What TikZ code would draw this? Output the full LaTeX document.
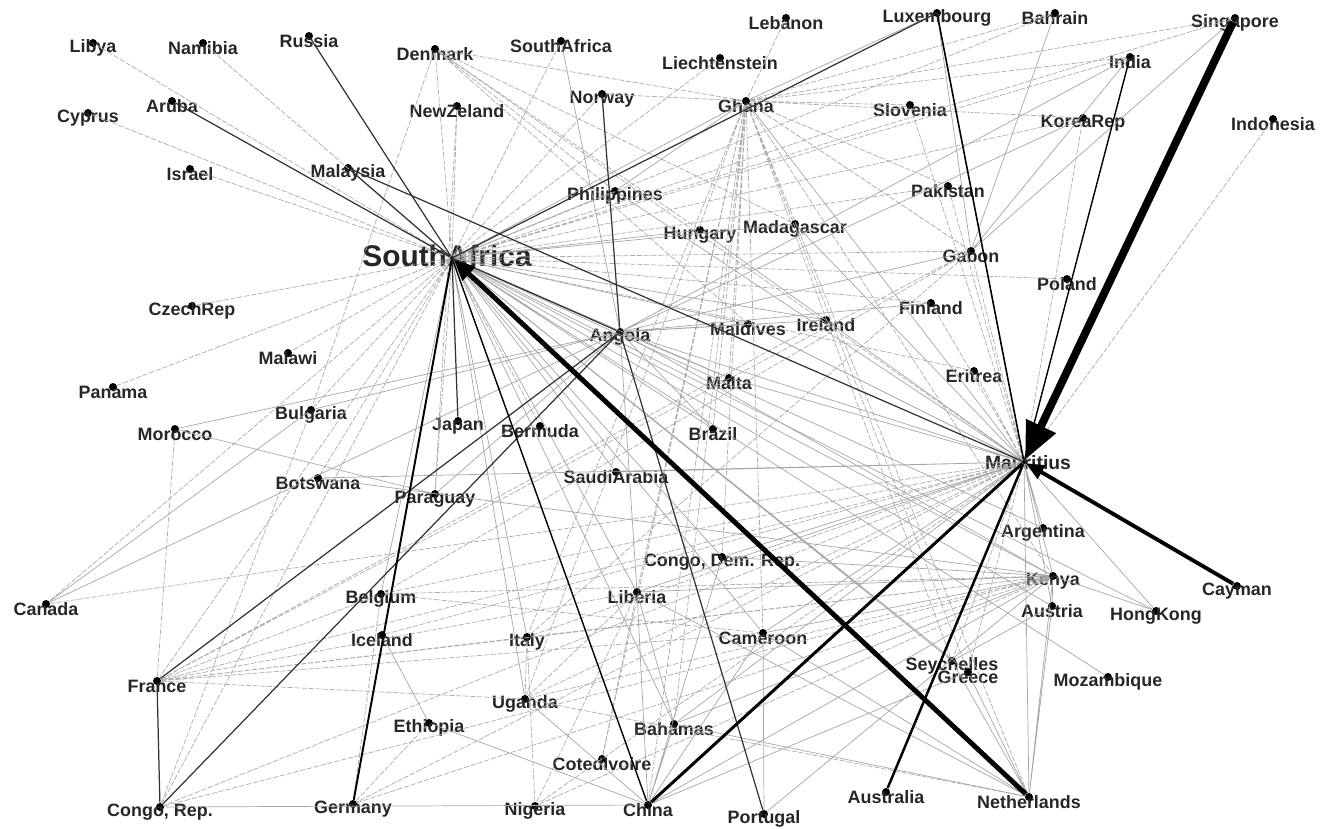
\documentclass[tikz,border=0pt]{standalone}
\usepackage{fontspec}
\setmainfont{Liberation Sans}
\usetikzlibrary{arrows.meta}

\tikzset{
  cty/.style={circle, fill=black, inner sep=0pt, minimum size=0.16cm},
  hub/.style={circle, fill=black, inner sep=0pt, minimum size=0.08cm},
  lab/.style={font=\fontsize{10.2}{12}\selectfont\bfseries, text=black!85, yshift=-0.1cm, inner sep=0pt},
  hublab/.style={text=black!85, inner sep=0pt},
  tie/.style={gray!70, line width=0.4pt},
  tiedash/.style={gray!65, line width=0.4pt, dash pattern=on 3pt off 1pt},
  flow/.style={black!80, line width=0.7pt},
}

\begin{document}
\begin{tikzpicture}[x=0.02cm, y=-0.02cm]
    \useasboundingbox (0,0) rectangle (1320,829);

    % Hubs
    \node[hub, label={[hublab, font=\fontsize{17}{20}\selectfont\bfseries, xshift=-0.1cm, yshift=0.04cm]center:SouthAfrica}] (sa) at (452,258) {};
    \node[hub, label={[hublab, font=\fontsize{11}{13}\selectfont\bfseries, xshift=0.08cm, yshift=-0.02cm]center:Mauritius}] (mauritius) at (1024,462) {};

    % Countries, top rows
    \node[cty, label={[lab]center:Libya}] (libya) at (93,43) {};
    \node[cty, label={[lab]center:Namibia}] (namibia) at (203,43) {};
    \node[cty, label={[lab]center:Russia}] (russia) at (309,36) {};
    \node[cty, label={[lab]center:Denmark}] (denmark) at (435,49) {};
    \node[cty, label={[lab]center:Aruba}] (aruba) at (172,101) {};
    \node[cty, label={[lab]center:Cyprus}] (cyprus) at (88,113) {};
    \node[cty, label={[lab]center:Israel}] (israel) at (190,169) {};
    \node[cty, label={[lab]center:Malaysia}] (malaysia) at (348,168) {};
    \node[cty, label={[lab]center:SouthAfrica}] (satop) at (561,41) {};
    \node[cty, label={[lab]center:NewZeland}] (newzeland) at (457,106) {};
    \node[cty, label={[lab]center:Norway}] (norway) at (602,94) {};
    \node[cty, label={[lab]center:Liechtenstein}] (liechtenstein) at (720,58) {};
    \node[cty, label={[lab]center:Lebanon}] (lebanon) at (786,18) {};
    \node[cty, label={[lab]center:Ghana}] (ghana) at (746,101) {};
    \node[cty, label={[lab]center:Philippines}] (philippines) at (615,191) {};
    \node[cty, label={[lab]center:Hungary}] (hungary) at (700,230) {};
    \node[cty, label={[lab]center:Madagascar}] (madagascar) at (795,224) {};
    \node[cty, label={[lab]center:Luxembourg}] (luxembourg) at (937,13) {};
    \node[cty, label={[lab]center:Bahrain}] (bahrain) at (1055,13) {};
    \node[cty, label={[lab]center:Singapore}] (singapore) at (1235,18) {};
    \node[cty, label={[lab]center:India}] (india) at (1130,57) {};
    \node[cty, label={[lab]center:Slovenia}] (slovenia) at (910,105) {};
    \node[cty, label={[lab]center:KoreaRep}] (korearep) at (1083,118) {};
    \node[cty, label={[lab]center:Indonesia}] (indonesia) at (1273,119) {};
    \node[cty, label={[lab]center:Pakistan}] (pakistan) at (948,186) {};
    \node[cty, label={[lab]center:Gabon}] (gabon) at (971,251) {};
    \node[cty, label={[lab]center:Poland}] (poland) at (1067,279) {};
    \node[cty, label={[lab]center:Finland}] (finland) at (931,303) {};
    \node[cty, label={[lab]center:Eritrea}] (eritrea) at (974,371) {};

    % Countries, middle rows
    \node[cty, label={[lab]center:CzechRep}] (czechrep) at (192,306) {};
    \node[cty, label={[lab]center:Malawi}] (malawi) at (288,353) {};
    \node[cty, label={[lab]center:Panama}] (panama) at (113,387) {};
    \node[cty, label={[lab]center:Bulgaria}] (bulgaria) at (311,410) {};
    \node[cty, label={[lab]center:Morocco}] (morocco) at (175,429) {};
    \node[cty, label={[lab]center:Botswana}] (botswana) at (318,478) {};
    \node[cty, label={[lab]center:Paraguay}] (paraguay) at (435,494) {};
    \node[cty, label={[lab]center:Japan}] (japan) at (458,421) {};
    \node[cty, label={[lab]center:Bermuda}] (bermuda) at (540,426) {};
    \node[cty, label={[lab]center:Angola}] (angola) at (620,332) {};
    \node[cty, label={[lab]center:Maldives}] (maldives) at (748,324) {};
    \node[cty, label={[lab]center:Ireland}] (ireland) at (826,320) {};
    \node[cty, label={[lab]center:Malta}] (malta) at (729,378) {};
    \node[cty, label={[lab]center:Brazil}] (brazil) at (713,429) {};
    \node[cty, label={[lab]center:SaudiArabia}] (saudiarabia) at (616,472) {};
    \node[cty, label={[lab]center:Argentina}] (argentina) at (1043,528) {};
    \node[cty, label={[lab]center:{Congo, Dem. Rep.}}] (congodr) at (722,557) {};
    \node[cty, label={[lab]center:Liberia}] (liberia) at (637,592) {};

    % Countries, bottom rows
    \node[cty, label={[lab]center:Canada}] (canada) at (46,604) {};
    \node[cty, label={[lab]center:Belgium}] (belgium) at (381,594) {};
    \node[cty, label={[lab]center:Iceland}] (iceland) at (382,635) {};
    \node[cty, label={[lab]center:France}] (france) at (157,681) {};
    \node[cty, label={[lab]center:Ethiopia}] (ethiopia) at (429,723) {};
    \node[cty, label={[lab]center:{Congo, Rep.}}] (congorep) at (160,807) {};
    \node[cty, label={[lab]center:Germany}] (germany) at (353,804) {};
    \node[cty, label={[lab]center:Italy}] (italy) at (527,637) {};
    \node[cty, label={[lab]center:Uganda}] (uganda) at (525,699) {};
    \node[cty, label={[lab]center:Cameroon}] (cameroon) at (763,633) {};
    \node[cty, label={[lab]center:Bahamas}] (bahamas) at (674,724) {};
    \node[cty, label={[lab]center:CotedIvoire}] (cotedivoire) at (602,759) {};
    \node[cty, label={[lab]center:Nigeria}] (nigeria) at (535,806) {};
    \node[cty, label={[lab]center:China}] (china) at (648,805) {};
    \node[cty, label={[lab]center:Portugal}] (portugal) at (764,814) {};
    \node[cty, label={[lab]center:Australia}] (australia) at (886,792) {};
    \node[cty, label={[lab]center:Netherlands}] (netherlands) at (1029,797) {};
    \node[cty, label={[lab]center:Kenya}] (kenya) at (1053,576) {};
    \node[cty, label={[lab]center:Austria}] (austria) at (1052,606) {};
    \node[cty, label={[lab]center:HongKong}] (hongkong) at (1156,611) {};
    \node[cty, label={[lab]center:Cayman}] (cayman) at (1237,586) {};
    \node[cty, label={[lab]center:Seychelles}] (seychelles) at (952,661) {};
    \node[cty, label={[lab]center:Greece}] (greece) at (968,672) {};
    \node[cty, label={[lab]center:Mozambique}] (mozambique) at (1108,677) {};

    % Weak ties out of SouthAfrica
    \draw[tiedash] (sa) -- (libya) (sa) -- (namibia) (sa) -- (cyprus) (sa) -- (israel)
        (sa) -- (denmark) (sa) -- (newzeland) (sa) -- (satop) (sa) -- (norway) (sa) -- (liechtenstein)
        (sa) -- (bahrain) (sa) -- (singapore) (sa) -- (india) (sa) -- (korearep) (sa) -- (slovenia)
        (sa) -- (pakistan) (sa) -- (gabon) (sa) -- (poland) (sa) -- (finland) (sa) -- (eritrea)
        (sa) -- (czechrep) (sa) -- (malawi) (sa) -- (panama) (sa) -- (bulgaria) (sa) -- (botswana)
        (sa) -- (canada) (sa) -- (france) (sa) -- (congorep) (sa) -- (paraguay) (sa) -- (bermuda);
    \draw[tie] (sa) -- (maldives) (sa) -- (ireland) (sa) -- (malta) (sa) -- (brazil)
        (sa) -- (saudiarabia) (sa) -- (congodr) (sa) -- (liberia) (sa) -- (italy) (sa) -- (uganda)
        (sa) -- (cameroon) (sa) -- (kenya) (sa) -- (austria) (sa) -- (seychelles) (sa) -- (greece)
        (sa) -- (hongkong) (sa) -- (mozambique) (sa) -- (philippines) (sa) -- (hungary)
        (sa) -- (madagascar) (sa) -- (belgium) (sa) -- (bahamas) (sa) -- (ghana) (sa) -- (argentina);

    % Weak ties out of Mauritius
    \draw[tiedash] (mauritius) -- (indonesia) (mauritius) -- (slovenia) (mauritius) -- (pakistan)
        (mauritius) -- (gabon) (mauritius) -- (finland) (mauritius) -- (eritrea) (mauritius) -- (korearep)
        (mauritius) -- (canada) (mauritius) -- (france) (mauritius) -- (congorep) (mauritius) -- (belgium)
        (mauritius) -- (iceland) (mauritius) -- (italy) (mauritius) -- (uganda) (mauritius) -- (germany)
        (mauritius) -- (nigeria) (mauritius) -- (seychelles) (mauritius) -- (greece) (mauritius) -- (denmark);
    \draw[tie] (mauritius) -- (argentina) (mauritius) -- (kenya) (mauritius) -- (austria)
        (mauritius) -- (hongkong) (mauritius) -- (saudiarabia) (mauritius) -- (botswana)
        (mauritius) -- (liberia) (mauritius) -- (congodr) (mauritius) -- (cameroon) (mauritius) -- (bahamas)
        (mauritius) -- (netherlands) (mauritius) -- (angola) (mauritius) -- (malta) (mauritius) -- (maldives)
        (mauritius) -- (ghana) (mauritius) -- (philippines) (mauritius) -- (hungary) (mauritius) -- (madagascar);

    % Weak ties out of Ghana
    \draw[tiedash] (ghana) -- (lebanon) (ghana) -- (denmark) (ghana) -- (norway) (ghana) -- (bahrain)
        (ghana) -- (singapore) (ghana) -- (india) (ghana) -- (korearep) (ghana) -- (pakistan)
        (ghana) -- (slovenia) (ghana) -- (congodr) (ghana) -- (liberia) (ghana) -- (cameroon)
        (ghana) -- (bahamas) (ghana) -- (china) (ghana) -- (italy) (ghana) -- (uganda) (ghana) -- (kenya)
        (ghana) -- (seychelles) (ghana) -- (greece) (ghana) -- (netherlands) (ghana) -- (gabon)
        (ghana) -- (brazil) (ghana) -- (malta) (ghana) -- (cotedivoire);
    \draw[tie] (ghana) -- (luxembourg) (ghana) -- (philippines);

    % Weak ties out of Angola
    \draw[tie] (angola) -- (maldives) (angola) -- (malta) (angola) -- (ireland) (angola) -- (brazil)
        (angola) -- (liberia) (angola) -- (kenya) (angola) -- (canada) (angola) -- (morocco)
        (angola) -- (paraguay) (angola) -- (bulgaria) (angola) -- (gabon) (angola) -- (finland)
        (angola) -- (satop) (angola) -- (india) (angola) -- (korearep);

    % Other weak ties
    \draw[tiedash] (denmark) -- (bulgaria) (denmark) -- (philippines) (denmark) -- (hungary)
        (denmark) -- (maldives) (denmark) -- (madagascar) (newzeland) -- (paraguay)
        (france) -- (belgium) (france) -- (italy) (france) -- (uganda) (france) -- (kenya)
        (france) -- (cameroon) (france) -- (liberia) (france) -- (gabon) (france) -- (ireland)
        (france) -- (morocco) (congorep) -- (bulgaria) (congorep) -- (kenya)
        (germany) -- (kenya) (germany) -- (belgium) (germany) -- (ethiopia)
        (belgium) -- (kenya) (belgium) -- (cameroon) (belgium) -- (gabon)
        (italy) -- (kenya) (italy) -- (nigeria) (italy) -- (uganda) (italy) -- (gabon)
        (uganda) -- (kenya) (uganda) -- (netherlands) (uganda) -- (liberia)
        (nigeria) -- (kenya) (nigeria) -- (liberia) (cotedivoire) -- (liberia);
    \draw[tie] (congorep) -- (china) (china) -- (liberia) (china) -- (bahamas) (china) -- (kenya)
        (china) -- (cameroon) (china) -- (congodr) (china) -- (uganda) (china) -- (ethiopia)
        (china) -- (greece) (bahamas) -- (kenya) (bahamas) -- (liberia)
        (portugal) -- (kenya) (portugal) -- (cameroon)
        (netherlands) -- (kenya) (netherlands) -- (austria) (netherlands) -- (greece)
        (netherlands) -- (cameroon) (netherlands) -- (bahamas) (netherlands) -- (liberia)
        (netherlands) -- (seychelles) (kenya) -- (austria) (kenya) -- (hongkong)
        (kenya) -- (cameroon) (kenya) -- (liberia) (kenya) -- (congodr) (austria) -- (seychelles)
        (ethiopia) -- (iceland) (morocco) -- (paraguay) (botswana) -- (kenya) (canada) -- (bulgaria)
        (india) -- (gabon) (singapore) -- (gabon) (luxembourg) -- (gabon) (bahrain) -- (gabon);

    % Stronger ties
    \draw[flow] (sa) -- (russia) (sa) -- (aruba) (sa) -- (malaysia) (sa) -- (japan)
        (sa) -- (angola) (sa) -- (luxembourg) (norway) -- (angola) (portugal) -- (angola)
        (malaysia) -- (mauritius) (france) -- (angola) (congorep) -- (angola) (france) -- (congorep);
    \draw[black, line width=0.9pt] (luxembourg) -- (mauritius);
    \draw[black, line width=0.8pt] (india) -- (mauritius);
    \draw[black, line width=0.8pt] (china) -- (sa);
    \draw[black, line width=1.1pt] (germany) -- (sa);

    % Main flows
    \draw[black, line width=1.4pt] (australia) -- (mauritius);
    \draw[black, line width=1.7pt] (china) -- (mauritius);
    \draw[black, line width=2.2pt, -{Triangle[length=0.36cm, width=0.3cm]}] (cayman) -- (mauritius);
    \draw[black, line width=2.8pt, -{Triangle[length=0.42cm, width=0.36cm]}] (netherlands) -- (sa);
    \draw[black, line width=4.5pt, -{Triangle[length=0.75cm, width=0.62cm]}] (singapore) -- (mauritius);
\end{tikzpicture}
\end{document}
